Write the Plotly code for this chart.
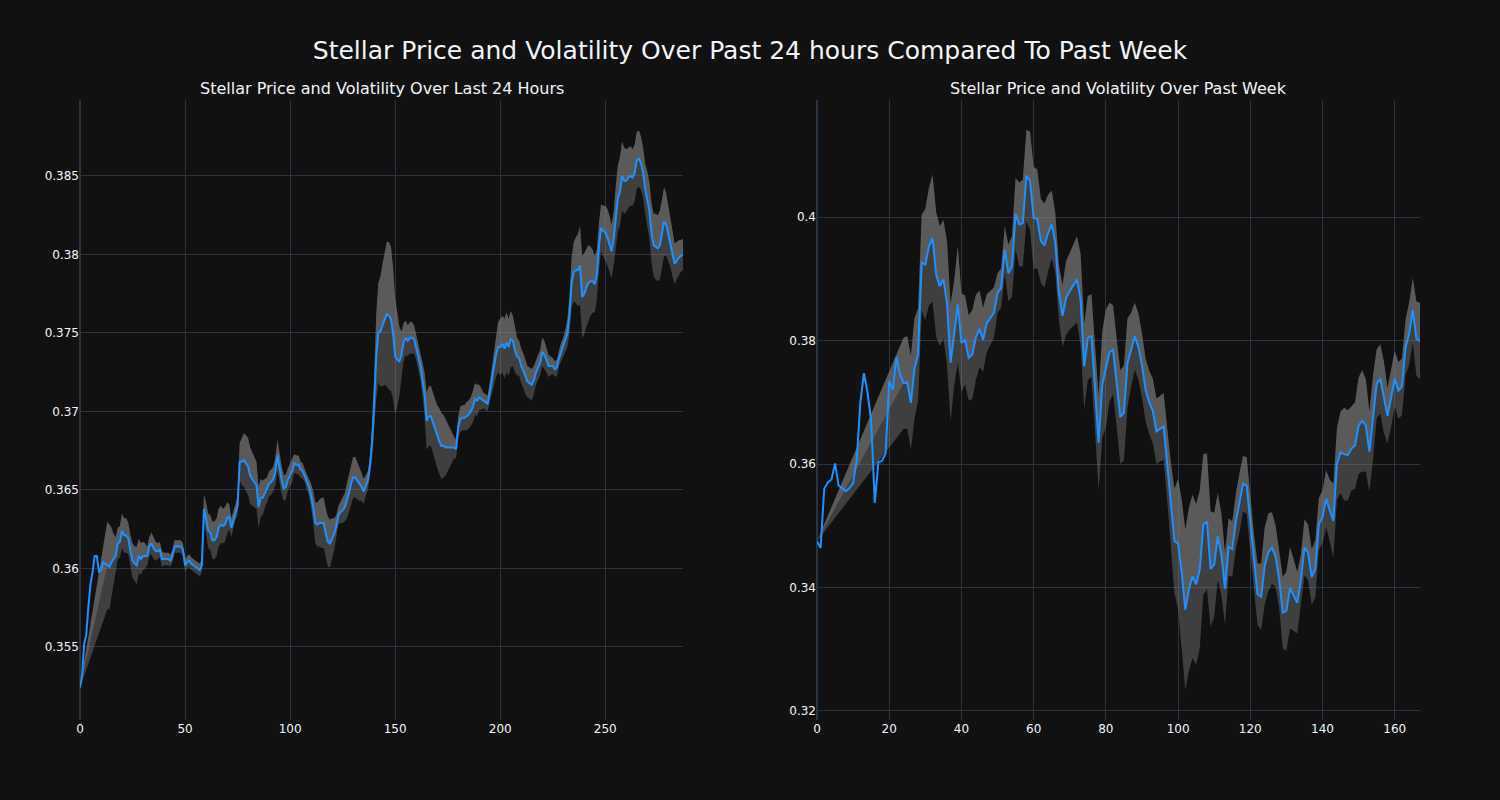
import plotly.graph_objects as go
from plotly.subplots import make_subplots

# ---------------- data: last 24 hours (5-minute steps) ----------------
day_price = [
    0.3524, 0.3532, 0.3552, 0.3558, 0.3576, 0.3590, 0.3598, 0.3608, 0.3608, 0.3598,
    0.3599, 0.3604, 0.3603, 0.3602, 0.3601, 0.3604, 0.3606, 0.3608, 0.3616, 0.3617,
    0.3624, 0.3621, 0.3621, 0.3619, 0.3611, 0.3605, 0.3603, 0.3602, 0.3608, 0.3606,
    0.3608, 0.3608, 0.3608, 0.3614, 0.3616, 0.3613, 0.3611, 0.3611, 0.3612, 0.3606,
    0.3606, 0.3606, 0.3606, 0.3605, 0.3608, 0.3614, 0.3614, 0.3614, 0.3614, 0.3612,
    0.3602, 0.3604, 0.3605, 0.3603, 0.3602, 0.3601, 0.3600, 0.3599, 0.3602, 0.3638,
    0.3632, 0.3624, 0.3623, 0.3618, 0.3618, 0.3620, 0.3626, 0.3628, 0.3627, 0.3628,
    0.3632, 0.3633, 0.3626, 0.3631, 0.3636, 0.3640, 0.3668, 0.3668, 0.3669, 0.3667,
    0.3665, 0.3659, 0.3657, 0.3655, 0.3653, 0.3639, 0.3645, 0.3645, 0.3648, 0.3650,
    0.3654, 0.3655, 0.3657, 0.3662, 0.3672, 0.3664, 0.3656, 0.3651, 0.3652, 0.3657,
    0.3660, 0.3662, 0.3667, 0.3666, 0.3666, 0.3663, 0.3662, 0.3659, 0.3655, 0.3652,
    0.3646, 0.3639, 0.3629, 0.3628, 0.3629, 0.3629, 0.3629, 0.3622, 0.3617, 0.3616,
    0.3619, 0.3622, 0.3627, 0.3634, 0.3636, 0.3637, 0.3639, 0.3643, 0.3648, 0.3654,
    0.3658, 0.3658, 0.3656, 0.3654, 0.3652, 0.3649, 0.3653, 0.3656, 0.3665, 0.3680,
    0.3705, 0.3735, 0.3750, 0.3751, 0.3755, 0.3759, 0.3762, 0.3761, 0.3759, 0.3750,
    0.3735, 0.3733, 0.3732, 0.3736, 0.3744, 0.3747, 0.3745, 0.3747, 0.3747, 0.3746,
    0.3741, 0.3735, 0.3729, 0.3721, 0.3711, 0.3694, 0.3697, 0.3697, 0.3693, 0.3688,
    0.3684, 0.3681, 0.3678, 0.3678, 0.3677, 0.3677, 0.3677, 0.3677, 0.3677, 0.3676,
    0.3690, 0.3695, 0.3696, 0.3696, 0.3697, 0.3698, 0.3700, 0.3703, 0.3708, 0.3707,
    0.3709, 0.3708, 0.3707, 0.3706, 0.3705, 0.3712, 0.3720, 0.3728, 0.3736, 0.3741,
    0.3741, 0.3743, 0.3740, 0.3744, 0.3741, 0.3746, 0.3745, 0.3739, 0.3735, 0.3734,
    0.3729, 0.3726, 0.3722, 0.3719, 0.3718, 0.3717, 0.3720, 0.3725, 0.3728, 0.3731,
    0.3738, 0.3736, 0.3733, 0.3729, 0.3729, 0.3729, 0.3727, 0.3728, 0.3734, 0.3738,
    0.3741, 0.3745, 0.3750, 0.3762, 0.3782, 0.3789, 0.3790, 0.3790, 0.3793, 0.3773,
    0.3775, 0.3779, 0.3782, 0.3783, 0.3783, 0.3781, 0.3787, 0.3805, 0.3817, 0.3815,
    0.3814, 0.3811, 0.3807, 0.3802, 0.3810, 0.3825, 0.3836, 0.3840, 0.3850, 0.3847,
    0.3847, 0.3849, 0.3850, 0.3849, 0.3852, 0.3860, 0.3861, 0.3858, 0.3852, 0.3842,
    0.3836, 0.3828, 0.3814, 0.3806, 0.3805, 0.3804, 0.3806, 0.3813, 0.3821, 0.3819,
    0.3813, 0.3808, 0.3800, 0.3794, 0.3796, 0.3798, 0.3799, 0.3800,
]

# rolling volatility (half-width of the band); None while the window warms up
day_vol = [0.0] + [None] * 12 + [
    0.0028, 0.0027, 0.0022, 0.0016, 0.0012, 0.0010, 0.0010,
    0.0011, 0.0011, 0.0011, 0.0010, 0.0010, 0.0011, 0.0011, 0.0012, 0.0011, 0.0010,
    0.0009, 0.0008, 0.0006, 0.0006, 0.0007, 0.0007, 0.0006, 0.0005, 0.0005, 0.0005,
    0.0004, 0.0004, 0.0004, 0.0004, 0.0004, 0.0004, 0.0004, 0.0004, 0.0004, 0.0004,
    0.0004, 0.0004, 0.0004, 0.0004, 0.0004, 0.0004, 0.0004, 0.0004, 0.0004, 0.0009,
    0.0010, 0.0011, 0.0011, 0.0012, 0.0012, 0.0012, 0.0012, 0.0012, 0.0011, 0.0011,
    0.0010, 0.0008, 0.0006, 0.0005, 0.0005, 0.0006, 0.0012, 0.0015, 0.0017, 0.0018,
    0.0018, 0.0018, 0.0017, 0.0016, 0.0015, 0.0013, 0.0012, 0.0011, 0.0009, 0.0008,
    0.0008, 0.0008, 0.0008, 0.0009, 0.0010, 0.0009, 0.0009, 0.0008, 0.0008, 0.0007,
    0.0007, 0.0007, 0.0006, 0.0006, 0.0006, 0.0005, 0.0005, 0.0004, 0.0005, 0.0006,
    0.0008, 0.0010, 0.0013, 0.0014, 0.0015, 0.0016, 0.0016, 0.0016, 0.0016, 0.0015,
    0.0013, 0.0010, 0.0007, 0.0006, 0.0007, 0.0008, 0.0009, 0.0011, 0.0012, 0.0013,
    0.0013, 0.0013, 0.0012, 0.0011, 0.0009, 0.0008, 0.0007, 0.0006, 0.0006, 0.0010,
    0.0017, 0.0027, 0.0032, 0.0035, 0.0039, 0.0042, 0.0046, 0.0047, 0.0046, 0.0042,
    0.0037, 0.0030, 0.0022, 0.0015, 0.0012, 0.0011, 0.0010, 0.0010, 0.0010, 0.0009,
    0.0008, 0.0008, 0.0009, 0.0011, 0.0014, 0.0018, 0.0019, 0.0019, 0.0019, 0.0019,
    0.0020, 0.0021, 0.0021, 0.0020, 0.0018, 0.0015, 0.0012, 0.0009, 0.0007, 0.0006,
    0.0007, 0.0008, 0.0008, 0.0008, 0.0009, 0.0009, 0.0009, 0.0010, 0.0010, 0.0010,
    0.0008, 0.0007, 0.0005, 0.0005, 0.0005, 0.0006, 0.0008, 0.0011, 0.0014, 0.0016,
    0.0018, 0.0018, 0.0019, 0.0019, 0.0018, 0.0018, 0.0016, 0.0014, 0.0012, 0.0011,
    0.0011, 0.0011, 0.0011, 0.0010, 0.0010, 0.0010, 0.0009, 0.0008, 0.0008, 0.0008,
    0.0009, 0.0009, 0.0008, 0.0007, 0.0006, 0.0005, 0.0005, 0.0005, 0.0005, 0.0006,
    0.0006, 0.0007, 0.0009, 0.0012, 0.0016, 0.0019, 0.0021, 0.0023, 0.0025, 0.0026,
    0.0026, 0.0025, 0.0024, 0.0022, 0.0020, 0.0018, 0.0016, 0.0015, 0.0015, 0.0016,
    0.0017, 0.0018, 0.0018, 0.0017, 0.0017, 0.0019, 0.0021, 0.0022, 0.0022, 0.0021,
    0.0020, 0.0019, 0.0019, 0.0018, 0.0018, 0.0018, 0.0018, 0.0017, 0.0016, 0.0016,
    0.0017, 0.0018, 0.0019, 0.0020, 0.0021, 0.0021, 0.0022, 0.0022, 0.0022, 0.0020,
    0.0018, 0.0016, 0.0014, 0.0013, 0.0012, 0.0011, 0.0010, 0.0010,
]

# ---------------- data: past week (hourly steps) ----------------
week_price = [
    0.3475, 0.3464, 0.3560, 0.3570, 0.3575, 0.3601, 0.3565, 0.3560, 0.3556, 0.3561,
    0.3569, 0.3607, 0.3699, 0.3747, 0.3715, 0.3670, 0.3537, 0.3603, 0.3605, 0.3617,
    0.3734, 0.3720, 0.3773, 0.3745, 0.3731, 0.3732, 0.3699, 0.3755, 0.3777, 0.3926,
    0.3923, 0.3952, 0.3966, 0.3907, 0.3888, 0.3899, 0.3861, 0.3764, 0.3812, 0.3858,
    0.3796, 0.3801, 0.3772, 0.3777, 0.3805, 0.3819, 0.3801, 0.3828, 0.3836, 0.3845,
    0.3877, 0.3885, 0.3947, 0.3909, 0.3920, 0.4005, 0.3988, 0.3990, 0.4067, 0.4058,
    0.3998, 0.3997, 0.3961, 0.3954, 0.3974, 0.3988, 0.3958, 0.3877, 0.3840, 0.3869,
    0.3880, 0.3890, 0.3899, 0.3866, 0.3758, 0.3804, 0.3808, 0.3723, 0.3634, 0.3728,
    0.3755, 0.3781, 0.3785, 0.3731, 0.3676, 0.3683, 0.3764, 0.3785, 0.3807, 0.3790,
    0.3760, 0.3720, 0.3700, 0.3686, 0.3653, 0.3657, 0.3661, 0.3599, 0.3537, 0.3475,
    0.3471, 0.3424, 0.3364, 0.3397, 0.3418, 0.3405, 0.3429, 0.3502, 0.3507, 0.3430,
    0.3437, 0.3483, 0.3453, 0.3398, 0.3466, 0.3462, 0.3507, 0.3537, 0.3568, 0.3565,
    0.3502, 0.3445, 0.3389, 0.3385, 0.3435, 0.3457, 0.3464, 0.3451, 0.3413, 0.3359,
    0.3362, 0.3399, 0.3388, 0.3375, 0.3411, 0.3465, 0.3457, 0.3417, 0.3430, 0.3503,
    0.3514, 0.3544, 0.3525, 0.3508, 0.3600, 0.3619, 0.3616, 0.3614, 0.3625, 0.3630,
    0.3662, 0.3670, 0.3662, 0.3620, 0.3676, 0.3730, 0.3738, 0.3708, 0.3678, 0.3708,
    0.3738, 0.3719, 0.3725, 0.3789, 0.3811, 0.3849, 0.3803, 0.3799,
]

week_vol = [0.0] + [None] * 23 + [
    0.0074, 0.0075, 0.0076, 0.0081, 0.0075, 0.0078,
    0.0090, 0.0095, 0.0103, 0.0101, 0.0097, 0.0096, 0.0100, 0.0095, 0.0085, 0.0095,
    0.0080, 0.0072, 0.0069, 0.0072, 0.0069, 0.0062, 0.0052, 0.0047, 0.0044, 0.0041,
    0.0032, 0.0032, 0.0038, 0.0046, 0.0049, 0.0058, 0.0068, 0.0070, 0.0074, 0.0080,
    0.0083, 0.0080, 0.0068, 0.0068, 0.0062, 0.0055, 0.0048, 0.0044, 0.0050, 0.0060,
    0.0062, 0.0067, 0.0070, 0.0074, 0.0069, 0.0068, 0.0067, 0.0069, 0.0077, 0.0086,
    0.0095, 0.0080, 0.0072, 0.0071, 0.0076, 0.0077, 0.0072, 0.0060, 0.0054, 0.0054,
    0.0052, 0.0051, 0.0051, 0.0052, 0.0053, 0.0053, 0.0054, 0.0058, 0.0065, 0.0085,
    0.0105, 0.0118, 0.0130, 0.0132, 0.0132, 0.0130, 0.0128, 0.0114, 0.0110, 0.0093,
    0.0084, 0.0070, 0.0066, 0.0058, 0.0046, 0.0045, 0.0045, 0.0048, 0.0045, 0.0046,
    0.0042, 0.0042, 0.0050, 0.0054, 0.0062, 0.0063, 0.0058, 0.0050, 0.0046, 0.0058,
    0.0064, 0.0066, 0.0058, 0.0050, 0.0042, 0.0045, 0.0045, 0.0045, 0.0046, 0.0042,
    0.0043, 0.0046, 0.0050, 0.0060, 0.0058, 0.0066, 0.0075, 0.0073, 0.0068, 0.0070,
    0.0078, 0.0082, 0.0075, 0.0065, 0.0068, 0.0056, 0.0056, 0.0058, 0.0045, 0.0048,
    0.0045, 0.0046, 0.0046, 0.0045, 0.0050, 0.0052, 0.0060, 0.0062,
]

assert len(day_price) == len(day_vol) == 288
assert len(week_price) == len(week_vol) == 168

TITLE = "Stellar Price and Volatility Over Past 24 hours Compared To Past Week"
SUB_TITLES = ("Stellar Price and Volatility Over Last 24 Hours",
              "Stellar Price and Volatility Over Past Week")

LINE_COLOR = "#1E90FF"
FILL_COLOR = "rgba(128,128,128,0.42)"
FONT = "DejaVu Sans"

fig = make_subplots(rows=1, cols=2, subplot_titles=SUB_TITLES, horizontal_spacing=0.1)


def add_panel(price, vol, col):
    x = list(range(len(price)))
    upper = [p + v if v is not None else None for p, v in zip(price, vol)]
    lower = [p - v if v is not None else None for p, v in zip(price, vol)]
    mid = [p if v is not None else None for p, v in zip(price, vol)]
    common = dict(mode="lines", line=dict(width=0), connectgaps=True,
                  showlegend=False, hoverinfo="skip")
    # band: lower -> upper (one layer)
    fig.add_trace(go.Scatter(x=x, y=lower, **common), row=1, col=col)
    fig.add_trace(go.Scatter(x=x, y=upper, fill="tonexty", fillcolor=FILL_COLOR, **common),
                  row=1, col=col)
    # upper half: price -> upper (second layer, lighter)
    fig.add_trace(go.Scatter(x=x, y=mid, **common), row=1, col=col)
    fig.add_trace(go.Scatter(x=x, y=upper, fill="tonexty", fillcolor=FILL_COLOR, **common),
                  row=1, col=col)
    # price line
    fig.add_trace(go.Scatter(x=x, y=price, mode="lines",
                             line=dict(color=LINE_COLOR, width=2),
                             showlegend=False, name="Price"), row=1, col=col)


add_panel(day_price, day_vol, 1)
add_panel(week_price, week_vol, 2)

fig.update_layout(
    template="plotly_dark",
    width=1500, height=800,
    margin=dict(l=80, r=80, t=100, b=80),
    font=dict(family=FONT, size=12),
    title=dict(text=TITLE, x=0.5, xanchor="center", y=0.9375, yanchor="middle",
               font=dict(size=25, family=FONT)),
    showlegend=False,
)
for ann in fig.layout.annotations:
    ann.font = dict(size=16, family=FONT, color="#f2f5fa")

fig.update_xaxes(range=[0, 287], row=1, col=1)
fig.update_xaxes(range=[0, 167], row=1, col=2)
fig.update_yaxes(range=[0.35035, 0.38984], row=1, col=1)
fig.update_yaxes(range=[0.31854, 0.41895], row=1, col=2)

fig.write_html(
    "out.html",
    config={"displayModeBar": False},
    post_script="document.body.style.margin='0';document.body.style.background='#111111';",
)
